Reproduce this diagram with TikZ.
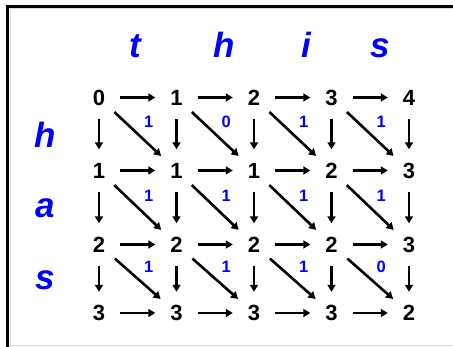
\documentclass[tikz,border=0pt]{standalone}
\usepackage{fontspec}
\setmainfont{Liberation Sans}
\usetikzlibrary{arrows.meta}

\begin{document}
\begin{tikzpicture}[x=1pt, y=-1pt, >={Triangle[length=7pt,width=8pt]},
    cell/.style={circle, minimum size=42pt, inner sep=0pt,
      font=\fontsize{22}{22}\selectfont\bfseries},
    letter/.style={text=blue, anchor=base, inner sep=0pt,
      font=\fontsize{35}{35}\selectfont\bfseries\itshape},
    link/.style={->, line width=2.6pt},
    cost/.style={text=blue, inner sep=0pt, above right=5pt,
      font=\fontsize{16.5}{16.5}\selectfont\bfseries}]
    \useasboundingbox (0,0) rectangle (453,347);
    % frame
    \draw[black!15, line width=1pt] (10,347) |- (453,9);
    \draw[black!15, line width=1pt] (9,345.5) -- (453,345.5);
    \draw[line width=3pt] (7.5,347) |- (453,6.5);

    % word letters
    \node[letter] (wt) at (135,58) {t};
    \node[letter] (wh) at (224,58) {h};
    \node[letter] (wi) at (306,58) {i};
    \node[letter] (ws) at (380,58) {s};
    \node[letter] (vh) at (45,148) {h};
    \node[letter] (va) at (45,218) {a};
    \node[letter] (vs) at (45,290) {s};

    % distance table
    \foreach \r/\y/\vals in {0/97.5/{0,1,2,3,4}, 1/170.5/{1,1,1,2,3},
        2/244.5/{2,2,2,2,3}, 3/313/{3,3,3,3,2}}
      \foreach \v [count=\c from 0] in \vals
        \node[cell] (n\r\c) at (99+77.5*\c, \y) {\v};

    % right and down moves
    \foreach \r in {0,...,3}
      \foreach \c [count=\d] in {0,...,3}
        \draw[link] (n\r\c) -- (n\r\d);
    \foreach \r [count=\s] in {0,...,2}
      \foreach \c in {0,...,4}
        \draw[link] (n\r\c) -- (n\s\c);

    % diagonal moves with their costs
    \foreach \r/\costs [count=\s] in {0/{1,0,1,1}, 1/{1,1,1,1}, 2/{1,1,1,0}}
      \foreach \k [count=\d, count=\c from 0] in \costs
        \path (n\r\c) edge[link] node[cost] {\k} (n\s\d);
\end{tikzpicture}
\end{document}
